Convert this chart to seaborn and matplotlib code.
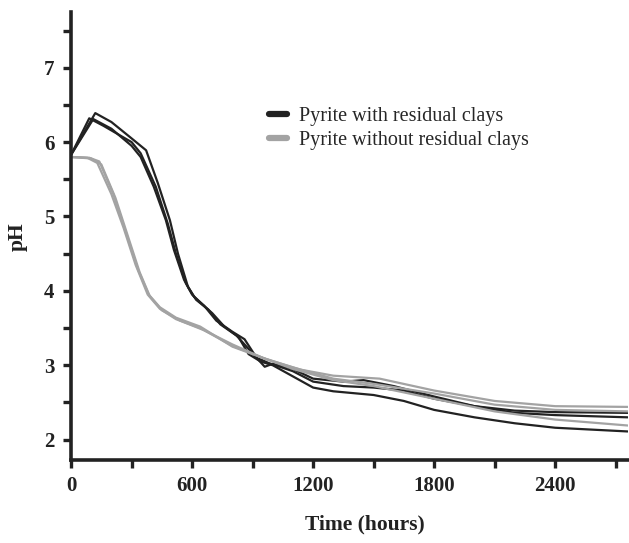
import matplotlib
matplotlib.use("Agg")
import matplotlib.pyplot as plt
import seaborn as sns
import pandas as pd
from matplotlib.lines import Line2D
from matplotlib.ticker import MultipleLocator

# ---- data ----
t_d1 = [0, 120, 200, 300, 372, 430, 490, 530, 580, 620, 680, 740, 820, 870, 960, 1000, 1100, 1200, 1350, 1450, 1600, 1800, 2000, 2200, 2400, 2760]
ph_d1 = [5.83, 6.39, 6.27, 6.05, 5.89, 5.45, 4.95, 4.50, 4.05, 3.88, 3.75, 3.55, 3.40, 3.25, 2.98, 3.02, 2.95, 2.82, 2.78, 2.80, 2.72, 2.58, 2.45, 2.36, 2.33, 2.30]
t_d2 = [0, 90, 160, 300, 345, 420, 480, 520, 570, 610, 660, 720, 800, 860, 920, 980, 1100, 1200, 1350, 1500, 1650, 1800, 2000, 2200, 2400, 2760]
ph_d2 = [5.83, 6.32, 6.22, 6.00, 5.85, 5.40, 4.90, 4.50, 4.10, 3.92, 3.80, 3.60, 3.45, 3.35, 3.10, 3.03, 2.92, 2.78, 2.72, 2.70, 2.66, 2.55, 2.45, 2.39, 2.37, 2.36]
t_d3 = [0, 110, 200, 300, 345, 410, 470, 510, 560, 600, 650, 700, 760, 830, 880, 940, 1000, 1100, 1200, 1300, 1500, 1650, 1800, 2000, 2200, 2400, 2760]
ph_d3 = [5.83, 6.31, 6.18, 5.95, 5.80, 5.40, 4.95, 4.55, 4.15, 3.95, 3.82, 3.70, 3.52, 3.38, 3.15, 3.05, 3.00, 2.85, 2.70, 2.65, 2.60, 2.52, 2.40, 2.30, 2.22, 2.16, 2.11]

t_g1 = [0, 80, 130, 200, 260, 320, 380, 440, 520, 640, 800, 970, 1140, 1300, 1530, 1800, 2100, 2400, 2760]
ph_g1 = [5.80, 5.79, 5.72, 5.30, 4.85, 4.35, 3.95, 3.76, 3.62, 3.50, 3.26, 3.08, 2.94, 2.86, 2.82, 2.66, 2.52, 2.45, 2.44]
t_g2 = [0, 100, 150, 220, 280, 340, 390, 450, 540, 660, 800, 950, 1100, 1300, 1500, 1800, 2100, 2400, 2760]
ph_g2 = [5.80, 5.78, 5.70, 5.25, 4.75, 4.25, 3.93, 3.74, 3.60, 3.47, 3.28, 3.10, 2.97, 2.82, 2.75, 2.62, 2.47, 2.40, 2.38]
t_g3 = [0, 90, 140, 210, 270, 330, 385, 440, 520, 640, 800, 950, 1100, 1300, 1500, 1800, 2100, 2400, 2760]
ph_g3 = [5.80, 5.79, 5.74, 5.30, 4.80, 4.30, 3.95, 3.78, 3.64, 3.52, 3.25, 3.10, 2.95, 2.80, 2.72, 2.55, 2.38, 2.27, 2.19]

groups = ["Pyrite with residual clays", "Pyrite without residual clays"]
x_ticks = [0, 600, 1200, 1800, 2400]
y_ticks = [2, 3, 4, 5, 6, 7]

series = [
    (groups[0], "d1", t_d1, ph_d1),
    (groups[0], "d2", t_d2, ph_d2),
    (groups[0], "d3", t_d3, ph_d3),
    (groups[1], "g1", t_g1, ph_g1),
    (groups[1], "g2", t_g2, ph_g2),
    (groups[1], "g3", t_g3, ph_g3),
]
rows = []
for g, rep, ts, ps in series:
    for t, p in zip(ts, ps):
        rows.append({"group": g, "rep": rep, "time": t, "pH": p})
df = pd.DataFrame(rows)

sns.set_theme(style="white")
plt.rcParams["font.family"] = ["Liberation Serif", "DejaVu Serif"]

dark = "#222222"
gray = "#a3a3a3"
palette = {groups[0]: dark, groups[1]: gray}

fig = plt.figure(figsize=(6.29, 5.43), dpi=100)
ax = fig.add_axes([0.113, 0.152, 0.885, 0.826])

sns.lineplot(data=df, x="time", y="pH", hue="group", units="rep",
             estimator=None, sort=False, palette=palette, linewidth=1.6,
             legend=False, ax=ax)

ax.set_xlim(0, 2760)
ax.set_ylim(1.72, 7.75)
ax.set_xticks(x_ticks)
ax.set_yticks(y_ticks)
ax.xaxis.set_minor_locator(MultipleLocator(300))
ax.yaxis.set_minor_locator(MultipleLocator(0.5))

for s in ["top", "right"]:
    ax.spines[s].set_visible(False)
for s in ["left", "bottom"]:
    ax.spines[s].set_color("#222222")
    ax.spines[s].set_linewidth(2.6)

ax.tick_params(axis="both", which="both", direction="out", length=6, width=2.4,
               color="#222222", bottom=True, left=True)
ax.tick_params(axis="x", which="major", labelsize=15, pad=5)
ax.tick_params(axis="y", which="major", labelsize=15, pad=6)
for lab in ax.get_xticklabels() + ax.get_yticklabels():
    lab.set_fontweight("bold")
    lab.set_color("#222222")

ax.set_xlabel("Time (hours)", fontsize=15.5, fontweight="bold", color="#222222")
ax.xaxis.set_label_coords(0.528, -0.12)
ax.set_ylabel("pH", fontsize=15.5, fontweight="bold", color="#222222", labelpad=12)

handles = [Line2D([0], [0], color=dark, lw=4.5), Line2D([0], [0], color=gray, lw=4.5)]
ax.legend(handles, groups, loc="upper left", bbox_to_anchor=(0.355, 0.788),
          frameon=False, fontsize=14.5, handlelength=0.9, handletextpad=0.6,
          labelspacing=0.25, borderaxespad=0, borderpad=0)

fig.savefig("out.png", dpi=100, facecolor="white")
